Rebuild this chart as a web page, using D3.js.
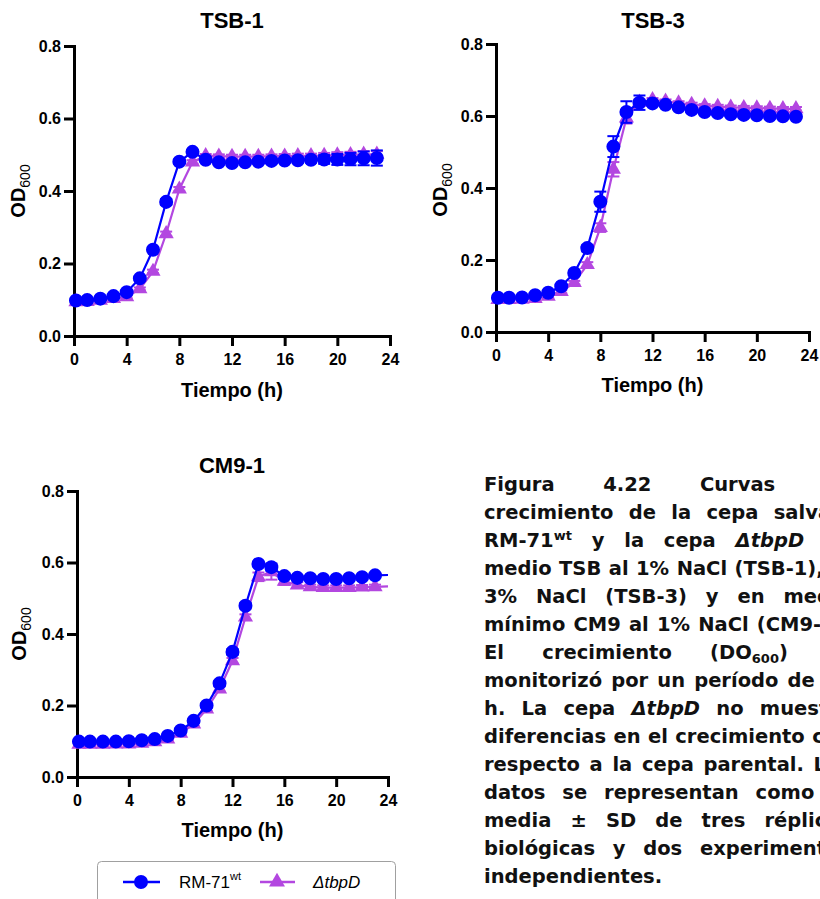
<!DOCTYPE html>
<html>
<head>
<meta charset="utf-8">
<script src="https://cdn.jsdelivr.net/npm/d3@7"></script>
<style>
  body { margin: 0; background: #fff; }
  svg { display: block; }
</style>
</head>
<body>
<script>
// tiempos de muestreo (h)
var hours = [0.15, 1, 2, 3, 4, 5, 6, 7, 8, 9, 10, 11, 12, 13, 14, 15, 16, 17, 18, 19, 20, 21, 22, 23];
var hoursCM9 = [0.15, 1, 2, 3, 4, 5, 6, 7, 8, 9, 10, 11, 12, 13, 14, 15, 16, 17, 18, 19, 20, 21, 22, 23, 24];

// TSB-1
var tsb1Wt = [0.098, 0.099, 0.103, 0.110, 0.121, 0.159, 0.238, 0.370, 0.481, 0.508, 0.486, 0.479, 0.477, 0.479, 0.481, 0.483, 0.484, 0.485, 0.486, 0.487, 0.487, 0.488, 0.490, 0.491];
var tsb1WtSd = [0.004, 0.003, 0.003, 0.003, 0.004, 0.005, 0.006, 0.008, 0.006, 0.005, 0.006, 0.005, 0.005, 0.005, 0.005, 0.006, 0.006, 0.007, 0.008, 0.012, 0.015, 0.017, 0.019, 0.021];
var tsb1Mut = [0.094, 0.095, 0.098, 0.103, 0.108, 0.130, 0.178, 0.282, 0.405, 0.480, 0.497, 0.496, 0.495, 0.495, 0.495, 0.496, 0.496, 0.497, 0.497, 0.498, 0.499, 0.500, 0.501, 0.501];
var tsb1MutSd = [0.003, 0.003, 0.003, 0.003, 0.004, 0.004, 0.005, 0.006, 0.006, 0.005, 0.005, 0.005, 0.005, 0.005, 0.005, 0.005, 0.006, 0.006, 0.006, 0.007, 0.008, 0.008, 0.009, 0.009];

// TSB-3
var tsb3Wt = [0.095, 0.095, 0.096, 0.102, 0.109, 0.127, 0.164, 0.233, 0.362, 0.515, 0.611, 0.637, 0.635, 0.631, 0.624, 0.617, 0.611, 0.608, 0.605, 0.603, 0.602, 0.600, 0.599, 0.598];
var tsb3WtSd = [0.003, 0.003, 0.003, 0.004, 0.004, 0.005, 0.006, 0.009, 0.028, 0.029, 0.030, 0.020, 0.005, 0.005, 0.005, 0.005, 0.005, 0.005, 0.005, 0.005, 0.005, 0.005, 0.005, 0.005];
var tsb3Mut = [0.090, 0.090, 0.091, 0.093, 0.099, 0.112, 0.137, 0.187, 0.290, 0.452, 0.594, 0.638, 0.645, 0.641, 0.636, 0.632, 0.628, 0.626, 0.624, 0.623, 0.622, 0.621, 0.620, 0.620];
var tsb3MutSd = [0.003, 0.003, 0.003, 0.003, 0.004, 0.004, 0.005, 0.007, 0.012, 0.020, 0.015, 0.008, 0.005, 0.005, 0.005, 0.005, 0.005, 0.005, 0.005, 0.005, 0.005, 0.005, 0.005, 0.005];

// CM9-1
var cm9Wt = [0.099, 0.099, 0.099, 0.099, 0.100, 0.103, 0.106, 0.115, 0.130, 0.157, 0.200, 0.262, 0.350, 0.479, 0.596, 0.587, 0.562, 0.557, 0.556, 0.554, 0.554, 0.556, 0.559, 0.564, 0.565];
var cm9WtSd = [0.003, 0.003, 0.003, 0.003, 0.003, 0.003, 0.004, 0.004, 0.005, 0.005, 0.006, 0.007, 0.008, 0.008, 0.006, 0.010, 0.008, 0.006, 0.005, 0.005, 0.005, 0.005, 0.005, 0.005, 0.005];
var cm9Mut = [0.091, 0.091, 0.091, 0.092, 0.092, 0.094, 0.098, 0.106, 0.122, 0.148, 0.190, 0.246, 0.325, 0.447, 0.560, 0.574, 0.547, 0.537, 0.532, 0.530, 0.530, 0.530, 0.531, 0.532, 0.533];
var cm9MutSd = [0.003, 0.003, 0.003, 0.003, 0.003, 0.003, 0.004, 0.004, 0.005, 0.005, 0.006, 0.007, 0.008, 0.008, 0.012, 0.022, 0.010, 0.008, 0.006, 0.006, 0.006, 0.006, 0.006, 0.006, 0.006];

var xTicks = [0, 4, 8, 12, 16, 20, 24];
var yTicks = [0, 0.2, 0.4, 0.6, 0.8];

var blue = "#0000ff";
var purple = "#b347e0";
var font = "'Liberation Sans', Arial, sans-serif";

var svg = d3.select("body").append("svg")
  .attr("width", 820)
  .attr("height", 899);

function drawPanel(p) {
  var x = d3.scaleLinear().domain([0, 24]).range([p.left, p.right]);
  var y = d3.scaleLinear().domain([0, 0.8]).range([p.bottom, p.top]);
  var g = svg.append("g");

  // ejes
  var ax = g.append("g")
    .attr("transform", "translate(0," + p.bottom + ")")
    .call(d3.axisBottom(x).tickValues(xTicks).tickSize(10).tickSizeOuter(0).tickPadding(8));
  var ay = g.append("g")
    .attr("transform", "translate(" + p.left + ",0)")
    .call(d3.axisLeft(y).tickValues(yTicks).tickSize(10).tickSizeOuter(0).tickPadding(3).tickFormat(d3.format(".1f")));
  [ax, ay].forEach(function(a) {
    a.select(".domain").attr("stroke", "#000").attr("stroke-width", 3).attr("stroke-linecap", "square");
    a.selectAll(".tick line").attr("stroke", "#000").attr("stroke-width", 3);
    a.selectAll(".tick text")
      .attr("fill", "#000")
      .style("font-family", font)
      .style("font-size", "16px")
      .style("font-weight", "bold");
  });

  // series: mutante primero, silvestre encima
  var series = [
    { t: p.t, v: p.mut, sd: p.mutSd, color: purple, sym: d3.symbolTriangle, size: 100 },
    { t: p.t, v: p.wt, sd: p.wtSd, color: blue, sym: d3.symbolCircle, size: 154 }
  ];

  series.forEach(function(s) {
    var pts = s.t.map(function(t, i) { return { t: t, v: s.v[i], sd: s.sd[i] }; });
    var shown = pts.filter(function(d) { return d.t < 24; });

    var line = d3.line().x(function(d) { return x(d.t); }).y(function(d) { return y(d.v); });
    g.append("path")
      .datum(pts)
      .attr("d", line)
      .attr("fill", "none")
      .attr("stroke", s.color)
      .attr("stroke-width", 2.2);

    var eb = g.append("g").selectAll("g").data(shown).enter().append("g");
    eb.append("line")
      .attr("x1", function(d) { return x(d.t); })
      .attr("x2", function(d) { return x(d.t); })
      .attr("y1", function(d) { return y(d.v - d.sd); })
      .attr("y2", function(d) { return y(d.v + d.sd); })
      .attr("stroke", s.color).attr("stroke-width", 2);
    [1, -1].forEach(function(sign) {
      eb.append("line")
        .attr("x1", function(d) { return x(d.t) - 6; })
        .attr("x2", function(d) { return x(d.t) + 6; })
        .attr("y1", function(d) { return y(d.v + sign * d.sd); })
        .attr("y2", function(d) { return y(d.v + sign * d.sd); })
        .attr("stroke", s.color).attr("stroke-width", 2);
    });

    g.append("g").selectAll("path").data(shown).enter().append("path")
      .attr("d", d3.symbol().type(s.sym).size(s.size))
      .attr("transform", function(d) { return "translate(" + x(d.t) + "," + y(d.v) + ")"; })
      .attr("fill", s.color);
  });

  // titulo y etiquetas
  g.append("text")
    .attr("x", p.titleX).attr("y", p.titleY)
    .attr("text-anchor", "middle")
    .style("font-family", font).style("font-size", "22px").style("font-weight", "bold")
    .text(p.title);

  g.append("text")
    .attr("x", (p.left + p.right) / 2).attr("y", p.xlabY)
    .attr("text-anchor", "middle")
    .style("font-family", font).style("font-size", "20px").style("font-weight", "bold")
    .text("Tiempo (h)");

  var yl = g.append("text")
    .attr("transform", "translate(" + p.ylabX + "," + p.ylabY + ") rotate(-90)")
    .attr("text-anchor", "middle")
    .style("font-family", font).style("font-size", "20px").style("font-weight", "bold");
  yl.append("tspan").text("OD");
  yl.append("tspan").attr("dy", 5).style("font-size", "14px").style("font-weight", "normal").text("600");
}

drawPanel({ title: "TSB-1", t: hours, wt: tsb1Wt, wtSd: tsb1WtSd, mut: tsb1Mut, mutSd: tsb1MutSd,
  left: 74, right: 390, top: 46, bottom: 336, titleX: 232, titleY: 28, xlabY: 397, ylabX: 25, ylabY: 191 });
drawPanel({ title: "TSB-3", t: hours, wt: tsb3Wt, wtSd: tsb3WtSd, mut: tsb3Mut, mutSd: tsb3MutSd,
  left: 496, right: 809, top: 44, bottom: 332, titleX: 653, titleY: 28, xlabY: 392, ylabX: 447, ylabY: 190 });
drawPanel({ title: "CM9-1", t: hoursCM9, wt: cm9Wt, wtSd: cm9WtSd, mut: cm9Mut, mutSd: cm9MutSd,
  left: 77, right: 388, top: 491, bottom: 777, titleX: 232, titleY: 473, xlabY: 837, ylabX: 26, ylabY: 634 });

// leyenda
var leg = svg.append("g");
leg.append("rect")
  .attr("x", 97.5).attr("y", 861.5).attr("width", 298).attr("height", 60).attr("rx", 4)
  .attr("fill", "#fff").attr("stroke", "#a0a0a0").attr("stroke-width", 1);
leg.append("line").attr("x1", 123).attr("x2", 160).attr("y1", 882).attr("y2", 882)
  .attr("stroke", blue).attr("stroke-width", 2.5);
leg.append("path").attr("d", d3.symbol().type(d3.symbolCircle).size(154)())
  .attr("transform", "translate(141,882)").attr("fill", blue);
var t1 = leg.append("text").attr("x", 179).attr("y", 888)
  .style("font-family", font).style("font-size", "17px");
t1.append("tspan").text("RM-71");
t1.append("tspan").attr("dy", -8).style("font-size", "11px").text("wt");
leg.append("line").attr("x1", 260).attr("x2", 295).attr("y1", 882).attr("y2", 882)
  .attr("stroke", purple).attr("stroke-width", 2.5);
leg.append("path").attr("d", d3.symbol().type(d3.symbolTriangle).size(110)())
  .attr("transform", "translate(277,882)").attr("fill", purple);
leg.append("text").attr("x", 313).attr("y", 888)
  .style("font-family", font).style("font-size", "17px").style("font-style", "italic")
  .text("ΔtbpD");

// texto de la figura (justificado)
var captionLines = [
  [["Figura 4.22 Curvas de"]],
  [["crecimiento de la cepa salvaje"]],
  [["RM-71"], ["wt", "sup"], [" y la cepa "], ["ΔtbpD", "it"], [" en"]],
  [["medio TSB al 1% NaCl (TSB-1), al"]],
  [["3% NaCl (TSB-3) y en medio"]],
  [["mínimo CM9 al 1% NaCl (CM9-1)."]],
  [["El crecimiento (DO"], ["600", "sub"], [") se"]],
  [["monitorizó por un período de 24"]],
  [["h. La cepa "], ["ΔtbpD", "it"], [" no muestra"]],
  [["diferencias en el crecimiento con"]],
  [["respecto a la cepa parental. Los"]],
  [["datos se representan como la"]],
  [["media ± SD de tres réplicas"]],
  [["biológicas y dos experimentos"]],
  [["independientes."]]
];

var capX = 484, capW = 367, capY0 = 491, capStep = 28;
var cap = svg.append("g")
  .style("font-family", "'DejaVu Sans', Verdana, sans-serif")
  .style("font-size", "19.5px")
  .style("font-weight", "bold")
  .attr("fill", "#111");

captionLines.forEach(function(segs, i) {
  var txt = cap.append("text").attr("x", capX).attr("y", capY0 + i * capStep);
  var shift = 0;
  segs.forEach(function(s) {
    var ts = txt.append("tspan").text(s[0]);
    var target = s[1] === "sup" ? -7 : s[1] === "sub" ? 4 : 0;
    if (target !== shift) { ts.attr("dy", target - shift); shift = target; }
    if (s[1] === "sup" || s[1] === "sub") ts.style("font-size", "13px");
    if (s[1] === "it") ts.style("font-style", "italic");
  });
  if (i < captionLines.length - 1) {
    var full = segs.map(function(s) { return s[0]; }).join("");
    var spaces = full.split(" ").length - 1;
    var w = txt.node().getComputedTextLength();
    txt.attr("word-spacing", (capW - w) / spaces);
  }
});
</script>
</body>
</html>
